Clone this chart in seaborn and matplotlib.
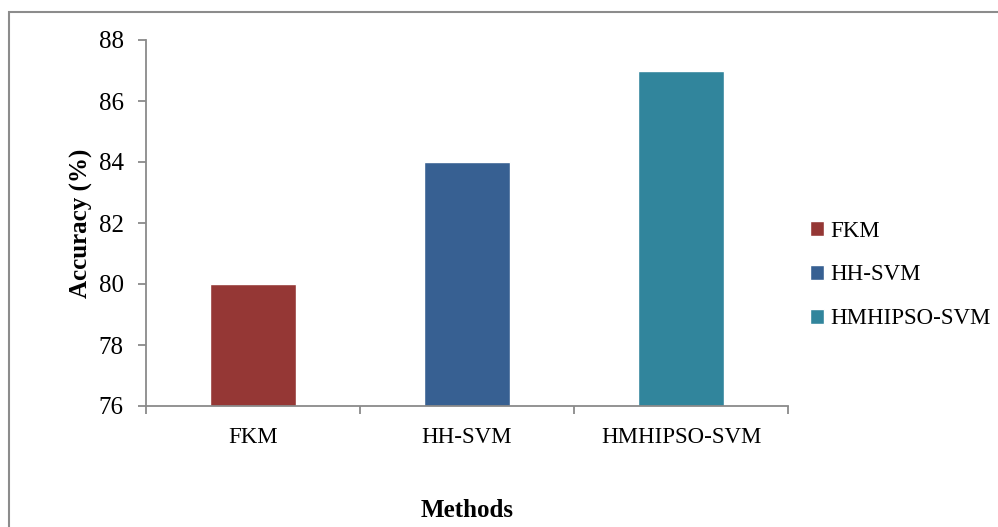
import matplotlib
matplotlib.use("Agg")
import matplotlib.pyplot as plt
from matplotlib.patches import Rectangle
import seaborn as sns
import pandas as pd

# Classification accuracy per method
methods = ["FKM", "HH-SVM", "HMHIPSO-SVM"]
accuracy = [80, 84, 87]
bar_colors = ["#953735", "#376092", "#31859C"]
y_ticks = [76, 78, 80, 82, 84, 86, 88]

sns.set_theme(style="white")
plt.rcParams["font.family"] = ["Liberation Serif", "DejaVu Serif"]
plt.rcParams["text.color"] = "black"
plt.rcParams["xtick.color"] = "black"
plt.rcParams["ytick.color"] = "black"
plt.rcParams["axes.labelcolor"] = "black"

df = pd.DataFrame({"Method": methods, "Accuracy": accuracy})

fig = plt.figure(figsize=(9.98, 5.27), dpi=100)
ax = fig.add_axes([146 / 998, 1 - 406 / 527, (788 - 146) / 998, (406 - 40) / 527])

sns.barplot(data=df, x="Method", y="Accuracy", hue="Method",
            palette=bar_colors, width=0.4, dodge=False, legend=True,
            saturation=1, ax=ax)

ax.set_ylim(76, 88)
ax.set_xlim(-0.5, 2.5)
ax.set_yticks(y_ticks)
ax.set_yticklabels([str(v) for v in y_ticks])

axis_gray = "#8a8a8a"
for side in ["top", "right"]:
    ax.spines[side].set_visible(False)
for side in ["left", "bottom"]:
    ax.spines[side].set_color(axis_gray)
    ax.spines[side].set_linewidth(1.3)

ax.tick_params(axis="y", direction="out", length=6, width=1.3, color=axis_gray,
               labelsize=18, pad=10, left=True)
ax.tick_params(axis="x", which="major", length=0, labelsize=16.5, pad=15)
ax.set_xticks([-0.5, 0.5, 1.5, 2.5], minor=True)
ax.tick_params(axis="x", which="minor", direction="out", length=6, width=1.3,
               color=axis_gray, bottom=True)

ax.set_xlabel("Methods", fontsize=18, fontweight="bold", labelpad=37)
ax.set_ylabel("Accuracy (%)", fontsize=18, fontweight="bold", labelpad=4)

handles, labels = ax.get_legend_handles_labels()
ax.legend(handles, labels, loc="center left",
          bbox_to_anchor=(810 / 998, 1 - 275 / 527), bbox_transform=fig.transFigure,
          frameon=False, fontsize=16.5, handlelength=0.6, handleheight=0.6,
          handletextpad=0.3, labelspacing=1.0, borderaxespad=0, borderpad=0)

# Chart-area outline
fig.patches.append(Rectangle((9 / 998, -0.05), 1.1, 1 - 12 / 527 + 0.05,
                             transform=fig.transFigure, fill=False,
                             edgecolor="#8c8c8c", linewidth=1.5))

fig.savefig("out.png", dpi=100)
